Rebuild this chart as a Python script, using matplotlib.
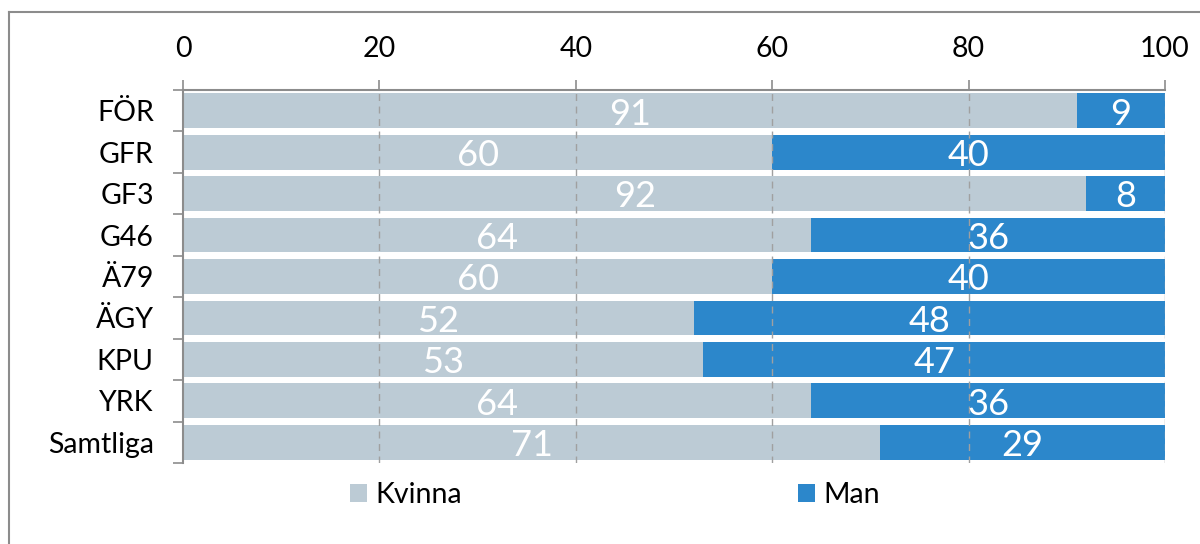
import matplotlib
matplotlib.use("Agg")
import matplotlib.pyplot as plt
from matplotlib.lines import Line2D
from matplotlib.patches import Patch
import numpy as np

categories = ["FÖR", "GFR", "GF3", "G46", "Ä79", "ÄGY", "KPU", "YRK", "Samtliga"]
kvinna = [91, 60, 92, 64, 60, 52, 53, 64, 71]
man = [9, 40, 8, 36, 40, 48, 47, 36, 29]
x_ticks = [0, 20, 40, 60, 80, 100]
series_names = ["Kvinna", "Man"]

c_kvinna = "#BCCBD5"
c_man = "#2C87CB"
grey = "#8C8C8C"

plt.rcParams['font.family'] = ['Lato', 'DejaVu Sans']

fig = plt.figure(figsize=(12, 5.44), dpi=100)
ax = fig.add_axes([183/1200, 1-463/544, (1165-183)/1200, (463-90)/544])

y = np.arange(len(categories))
h = 0.84
ax.barh(y, kvinna, height=h, color=c_kvinna, zorder=1)
ax.barh(y, man, left=kvinna, height=h, color=c_man, zorder=1)

for i in range(len(categories)):
    ax.text(kvinna[i]/2, y[i]+0.08, str(kvinna[i]), ha="center", va="center",
            color="white", fontsize=26, zorder=4)
    ax.text(kvinna[i] + man[i]/2, y[i]+0.08, str(man[i]), ha="center", va="center",
            color="white", fontsize=26, zorder=4)

ax.set_xlim(0, 100)
ax.set_ylim(len(categories)-0.5, -0.5)
ax.set_xticks(x_ticks)
ax.xaxis.tick_top()
ax.tick_params(axis="x", which="major", direction="out", length=7, width=1.2,
               color=grey, labelsize=20.5, pad=13, labelcolor="black")
ax.set_yticks(y)
ax.set_yticklabels(categories)
ax.tick_params(axis="y", which="major", length=0, labelsize=20.5, pad=21)
ax.set_yticks(np.arange(-0.5, len(categories), 1), minor=True)
ax.tick_params(axis="y", which="minor", direction="out", length=7, width=1.2, color=grey)

for s in ["right", "bottom"]:
    ax.spines[s].set_visible(False)
for s in ["left", "top"]:
    ax.spines[s].set_color(grey)
    ax.spines[s].set_linewidth(1.5)

for xv in x_ticks[1:]:
    ax.axvline(xv, color="#A0A0A0", linestyle=(0, (5, 4)), linewidth=1, zorder=2)

handles = [Patch(facecolor=c_kvinna, edgecolor="none"), Patch(facecolor=c_man, edgecolor="none")]
fig.legend(handles, series_names, loc="center left", bbox_to_anchor=(350/1200, 1-495/544),
           ncol=2, frameon=False, fontsize=20.5, handlelength=0.6, handleheight=0.6,
           handletextpad=0.3, columnspacing=11.8, borderaxespad=0, borderpad=0)

fig.add_artist(Line2D([9/1200, 9/1200], [0, 1-12/544], transform=fig.transFigure,
                      color=grey, linewidth=1.5))
fig.add_artist(Line2D([9/1200, 1], [1-12/544, 1-12/544], transform=fig.transFigure,
                      color=grey, linewidth=1.5))

fig.savefig("out.png", dpi=100)
